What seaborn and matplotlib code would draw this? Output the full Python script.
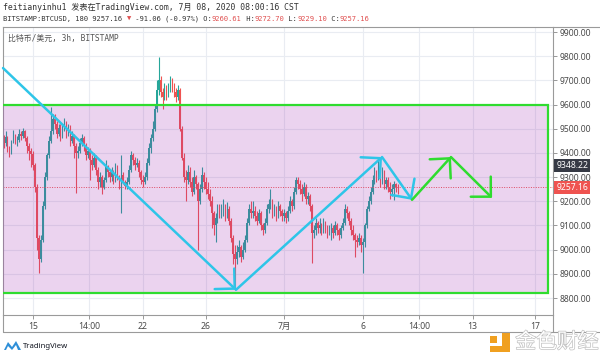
import pandas as pd
import matplotlib
matplotlib.use("Agg")
import matplotlib.pyplot as plt
import seaborn as sns
import matplotlib.transforms as mtransforms
import matplotlib.patheffects as pe
from matplotlib.patches import Rectangle, Polygon
from matplotlib.lines import Line2D

# 3h BTCUSD candles, first bar opens 2020-06-13 03:00
start = "2020-06-13 03:00"
first_open = 9450

closes = [
    9440, 9465, 9420, 9400, 9445, 9470, 9450,                # Jun 13
    9455, 9480, 9470, 9490, 9460, 9430, 9410, 9395,          # Jun 14
    9350, 9260, 9050, 8960, 9040, 9180, 9300, 9390,          # Jun 15
    9450, 9490, 9540, 9520, 9480, 9505, 9470, 9500,          # Jun 16
    9520, 9480, 9500, 9450, 9470, 9430, 9400, 9410,          # Jun 17
    9440, 9460, 9430, 9390, 9410, 9370, 9350, 9380,          # Jun 18
    9330, 9280, 9300, 9260, 9290, 9340, 9320, 9300,          # Jun 19
    9320, 9290, 9340, 9300, 9270, 9310, 9280, 9265,          # Jun 20
    9280, 9330, 9390, 9370, 9350, 9360, 9320, 9290,          # Jun 21
    9280, 9300, 9360, 9420, 9460, 9500, 9580, 9660,          # Jun 22
    9700, 9650, 9630, 9670, 9640, 9660, 9690, 9670,          # Jun 23
    9650, 9630, 9660, 9500, 9380, 9300, 9290, 9320,          # Jun 24
    9280, 9240, 9300, 9270, 9200, 9250, 9310, 9280,          # Jun 25
    9250, 9230, 9200, 9150, 9100, 9130, 9170, 9150,          # Jun 26
    9160, 9180, 9140, 9170, 9120, 9050, 8980, 8960,          # Jun 27
    8990, 9010, 8970, 9000, 9040, 9110, 9170, 9150,          # Jun 28
    9160, 9140, 9120, 9150, 9100, 9080, 9110, 9170,          # Jun 29
    9190, 9200, 9150, 9170, 9140, 9180, 9160, 9140,          # Jun 30
    9150, 9130, 9160, 9200, 9180, 9240, 9290, 9270,          # Jul 1
    9250, 9230, 9260, 9210, 9220, 9180, 9070, 9080,          # Jul 2
    9110, 9090, 9100, 9080, 9110, 9090, 9070, 9080,          # Jul 3
    9090, 9070, 9100, 9080, 9060, 9090, 9110, 9170,          # Jul 4
    9150, 9120, 9080, 9060, 9040, 9030, 9050, 9020,          # Jul 5
    9030, 9100, 9170, 9200, 9240, 9290, 9310, 9300,          # Jul 6
    9340, 9280, 9320, 9270, 9290, 9260, 9240, 9250,          # Jul 7
    9270, 9260.61, 9257.16,                                  # Jul 8
]
highs = [
    9475, 9490, 9470, 9430, 9455, 9495, 9480,
    9470, 9500, 9490, 9505, 9495, 9470, 9440, 9420,
    9410, 9360, 9270, 9060, 9060, 9200, 9320, 9400,
    9470, 9590, 9560, 9560, 9530, 9520, 9520, 9520,
    9545, 9530, 9520, 9515, 9490, 9480, 9440, 9430,
    9460, 9480, 9470, 9440, 9425, 9420, 9390, 9400,
    9390, 9340, 9320, 9310, 9300, 9370, 9350, 9330,
    9340, 9330, 9360, 9350, 9310, 9390, 9320, 9290,
    9300, 9350, 9410, 9400, 9385, 9380, 9370, 9330,
    9310, 9320, 9380, 9440, 9480, 9530, 9600, 9700,
    9795, 9720, 9670, 9690, 9680, 9690, 9720, 9710,
    9690, 9670, 9680, 9670, 9510, 9400, 9330, 9350,
    9340, 9300, 9330, 9310, 9280, 9270, 9340, 9320,
    9300, 9280, 9250, 9220, 9160, 9150, 9190, 9190,
    9190, 9210, 9190, 9195, 9180, 9130, 9060, 9020,
    9020, 9040, 9020, 9030, 9060, 9130, 9190, 9200,
    9200, 9180, 9160, 9170, 9160, 9110, 9130, 9190,
    9210, 9250, 9210, 9190, 9180, 9200, 9190, 9170,
    9170, 9160, 9180, 9220, 9210, 9260, 9300, 9300,
    9290, 9270, 9280, 9270, 9240, 9230, 9190, 9100,
    9130, 9120, 9130, 9110, 9130, 9120, 9100, 9100,
    9110, 9100, 9120, 9110, 9090, 9100, 9130, 9190,
    9180, 9160, 9130, 9100, 9070, 9060, 9070, 9060,
    9050, 9110, 9180, 9220, 9260, 9310, 9340, 9330,
    9385, 9360, 9340, 9330, 9300, 9300, 9280, 9270,
    9285, 9275, 9272.70,
]
lows = [
    9420, 9430, 9405, 9385, 9395, 9440, 9435,
    9430, 9445, 9455, 9460, 9450, 9400, 9370, 9340,
    9330, 9240, 9000, 8905, 8950, 9030, 9170, 9290,
    9380, 9440, 9480, 9500, 9460, 9470, 9450, 9460,
    9490, 9460, 9470, 9430, 9440, 9380, 9235, 9380,
    9400, 9430, 9410, 9370, 9380, 9290, 9330, 9340,
    9310, 9250, 9260, 9230, 9250, 9280, 9300, 9280,
    9285, 9270, 9280, 9290, 9250, 9150, 9270, 9250,
    9250, 9270, 9320, 9350, 9330, 9340, 9300, 9270,
    9260, 9270, 9290, 9350, 9400, 9450, 9490, 9570,
    9640, 9630, 9580, 9620, 9620, 9630, 9650, 9650,
    9630, 9610, 9620, 9490, 9370, 9280, 9200, 9270,
    9260, 9220, 9230, 9250, 9000, 9190, 9240, 9250,
    9230, 9210, 9180, 9090, 9060, 9030, 9110, 9130,
    9130, 9140, 9120, 9130, 9100, 9030, 8940, 8835,
    8940, 8970, 8950, 8960, 8990, 9030, 9100, 9130,
    9130, 9120, 9100, 9110, 9080, 9060, 9070, 9100,
    9150, 9170, 9130, 9140, 9120, 9130, 9140, 9120,
    9120, 9110, 9120, 9150, 9160, 9170, 9230, 9250,
    9230, 9200, 9220, 9190, 9190, 9160, 8945, 9050,
    9060, 9070, 9070, 9060, 9070, 9070, 9050, 9060,
    9040, 9050, 9060, 9060, 9040, 9050, 9080, 9100,
    9130, 9100, 9060, 9040, 8970, 9010, 9020, 8990,
    8905, 9010, 9090, 9160, 9190, 9230, 9270, 9280,
    9290, 9260, 9270, 9250, 9250, 9240, 9210, 9220,
    9205, 9240, 9229.10,
]

y_ticks = [8800, 8900, 9000, 9100, 9200, 9300, 9400, 9500, 9600, 9700, 9800, 9900]
x_tick_days = [15, 18.583, 22, 26, 31, 36, 39.583, 43, 47]
x_tick_labels = ["15", "14:00", "22", "26", "7月", "6", "14:00", "13", "17"]

# drawings (day-of-June, price)
box_days = (12.9, 47.8)
box_prices = (8820, 9600)
cyan_arrows = [((13.09, 9751), (27.93, 8834)),
               ((27.93, 8834), (37.23, 9383)),
               ((37.23, 9383), (39.14, 9206))]
green_arrows = [((39.14, 9206), (41.62, 9383)),
                ((41.62, 9383), (44.24, 9214))]

last_price = 9257.16
prev_close = 9348.22

UP, DOWN = "#26a69a", "#ef5350"
CYAN, GREEN = "#2ec5e8", "#2fdc2f"

sns.set_theme(style="white")
plt.rcParams["font.family"] = ["Noto Sans", "Noto Sans CJK SC", "DejaVu Sans"]
MONO = ["DejaVu Sans Mono", "Noto Sans CJK SC", "DejaVu Sans"]

df = pd.DataFrame({
    "time": pd.date_range(start, periods=len(closes), freq="3h"),
    "open": [first_open] + closes[:-1],
    "high": highs,
    "low": lows,
    "close": closes,
})
df["day"] = (df["time"] - pd.Timestamp("2020-05-31")) / pd.Timedelta(days=1)
df["up"] = df["close"] >= df["open"]
colors = [UP if u else DOWN for u in df["up"]]


def fx(px):
    return px / 600


def fy(py):
    return 1 - py / 355


fig = plt.figure(figsize=(6, 3.55), dpi=100)
ax = fig.add_axes([fx(3), fy(315), fx(550), 288 / 355])
ax.set_xlim(13.089, 48.12)
ax.set_ylim(8729.8, 9920.7)

# grid
ax.set_yticks(y_ticks)
ax.set_yticklabels([f"{v:.2f}" for v in y_ticks])
ax.set_xticks(x_tick_days)
ax.set_xticklabels(x_tick_labels)
ax.grid(True, color="#e9ecf2", lw=0.8, zorder=0)
ax.set_axisbelow(True)

# candles
ax.vlines(df["day"], df["low"], df["high"], colors=colors, lw=0.8, zorder=2)
body_bottom = df[["open", "close"]].min(axis=1)
body_h = (df["close"] - df["open"]).abs().clip(lower=3)
ax.bar(df["day"], body_h, bottom=body_bottom, width=0.1, color=colors,
       linewidth=0, zorder=2)

# current price line
ax.axhline(last_price, color=DOWN, lw=0.7, ls=(0, (1, 1.5)), zorder=2)

# pink box
ax.add_patch(Rectangle((box_days[0], box_prices[0]), box_days[1] - box_days[0],
                       box_prices[1] - box_prices[0],
                       facecolor=(0.612, 0.153, 0.69, 0.2), edgecolor=GREEN,
                       lw=1.6, zorder=3))

for arrows, col in [(cyan_arrows, CYAN), (green_arrows, GREEN)]:
    for a, b in arrows:
        ax.annotate("", xy=b, xytext=a,
                    arrowprops=dict(arrowstyle="->,head_length=0.85,head_width=0.85",
                                    color=col, lw=1.8, shrinkA=0, shrinkB=0),
                    zorder=4)

# axes styling
ax.yaxis.tick_right()
ax.tick_params(axis="y", right=True, left=False, length=3, width=0.6,
               color="#888888", labelsize=6.2, labelcolor="#4a4a4a", pad=1.5)
ax.tick_params(axis="x", bottom=True, length=3, width=0.6, color="#888888",
               labelsize=6.2, labelcolor="#4a4a4a", pad=2.0)
for s in ax.spines.values():
    s.set_color("#9a9a9a")
    s.set_linewidth(0.8)

# price labels on the scale
trans = mtransforms.blended_transform_factory(ax.transAxes, ax.transData)
ax.text(1.006, prev_close, f"{prev_close:.2f}", transform=trans, ha="left",
        va="center", fontsize=6.2, color="white", fontweight="bold", zorder=6,
        bbox=dict(boxstyle="square,pad=0.22", fc="#363a45", ec="none"),
        clip_on=False)
ax.text(1.006, last_price, f"{last_price:.2f}", transform=trans, ha="left",
        va="center", fontsize=6.2, color="white", fontweight="bold", zorder=6,
        bbox=dict(boxstyle="square,pad=0.22", fc=DOWN, ec="none"),
        clip_on=False)

# outer frame pieces
frame = "#9a9a9a"
for (x0, y0, x1, y1) in [(553, 27, 600, 27), (3, 332, 600, 332),
                         (3, 315, 3, 332), (553, 315, 553, 332)]:
    fig.add_artist(Line2D([fx(x0), fx(x1)], [fy(y0), fy(y1)], color=frame, lw=0.8))

# legend inside chart
ax.text(fx(8), fy(38), "比特币/美元, 3h, BITSTAMP", transform=fig.transFigure,
        fontsize=5.7, color="#555555", family=MONO, va="center", ha="left")

# header
dark, red = "#333333", "#e05050"
fig.text(fx(3), fy(7), "feitianyinhu1 发表在TradingView.com, 7月 08, 2020 08:00:16 CST",
         fontsize=5.9, color=dark, family=MONO, va="center", ha="left")
pieces = [("BITSTAMP:BTCUSD, 180 9257.16 ", dark), ("▼", red),
          (" -91.06 (-0.97%) O:", dark), ("9260.61", red), (" H:", dark),
          ("9272.70", red), (" L:", dark), ("9229.10", red), (" C:", dark),
          ("9257.16", red)]
char_px = 5.1 * 100 / 72 * 0.602
pos = 3
for txt, col in pieces:
    fig.text(fx(pos), fy(19), txt, fontsize=5.1, color=col, family=MONO,
             va="center", ha="left")
    pos += len(txt) * char_px

# TradingView logo
fig.add_artist(Polygon([(fx(p[0]), fy(p[1])) for p in
                        [(4, 350), (8, 342), (12, 347), (16, 341), (21, 350),
                         (18, 350), (16, 345), (12, 350), (8, 346), (6, 350)]],
                       closed=True, fc="#2e8fd8", ec="none"))
fig.text(fx(23), fy(346), "TradingView", fontsize=5.6, color="#131722",
         fontweight="bold", va="center", ha="left")

# watermark
fig.add_artist(Rectangle((fx(502), fy(352)), fx(8), 20 / 355, fc="#f0a020", ec="none"))
fig.add_artist(Rectangle((fx(490), fy(352)), fx(14), 6 / 355, fc="#f0a020", ec="none"))
fig.add_artist(Rectangle((fx(490), fy(343)), fx(7), 7 / 355, fc="#f0a020", ec="none"))
fig.text(fx(557), fy(342), "金色财经", fontsize=15, color="white",
         family=["Noto Sans CJK SC"], va="center", ha="center",
         path_effects=[pe.withStroke(linewidth=1.0, foreground="#c0c0c0")])

fig.savefig("out.png", dpi=100)
